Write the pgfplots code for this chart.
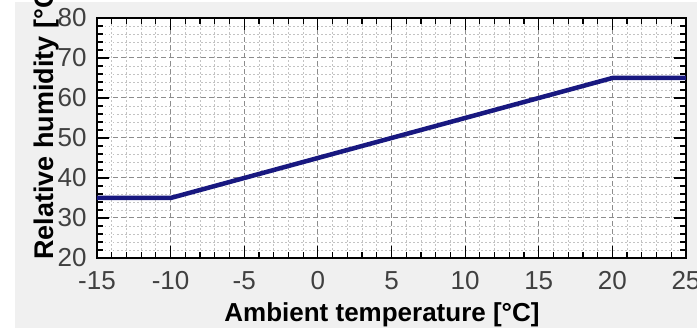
\documentclass[border=0pt]{standalone}
\usepackage{pgfplots}
\pgfplotsset{compat=1.18}
\usepackage{fontspec}
\setmainfont{Liberation Sans}
\definecolor{navyline}{RGB}{24,24,128}
\definecolor{bg}{RGB}{240,240,240}
\definecolor{ticklab}{RGB}{64,64,64}
\definecolor{majgrid}{RGB}{140,140,140}
\definecolor{mingrid}{RGB}{195,195,195}
\begin{document}
\begin{tikzpicture}[x=1pt,y=1pt]
\useasboundingbox (0,0) rectangle (697,328);
\fill[white] (0,0) rectangle (697,328);
\fill[bg] (15,0) rectangle (697,326);
\begin{axis}[
  at={(97pt,70pt)}, anchor=south west,
  scale only axis, width=589pt, height=240pt,
  xmin=-15, xmax=25, ymin=20, ymax=80,
  xtick={-15,-10,...,25}, ytick={20,30,...,80},
  minor x tick num=4, minor y tick num=4,
  grid=both,
  major grid style={majgrid, line width=1pt, dash pattern=on 5pt off 3pt},
  minor grid style={mingrid, line width=0.8pt, dash pattern=on 1.5pt off 2.5pt},
  tick align=inside,
  major tick length=12pt, minor tick length=6pt,
  axis line style={black, line width=1.5pt},
  every tick/.style={black, line width=1.2pt},
  axis background/.style={fill=white},
  /pgf/number format/assume math mode=true,
  tick label style={font=\fontsize{26}{26}\selectfont, text=ticklab},
  xticklabel style={yshift=-10pt},
  yticklabel style={xshift=-7pt},
]
\addplot[navyline, line width=4.5pt, line join=round] coordinates {(-15,35) (-10,35) (20,65) (25,65)};
\end{axis}
\node[anchor=base, font=\bfseries\fontsize{26}{26}\selectfont] at (382,6) {Ambient temperature [°C]};
\node[anchor=base west, rotate=90, font=\bfseries\fontsize{27}{27}\selectfont, inner sep=0pt] at (53,68) {Relative humidity [°C]};
\end{tikzpicture}
\end{document}
